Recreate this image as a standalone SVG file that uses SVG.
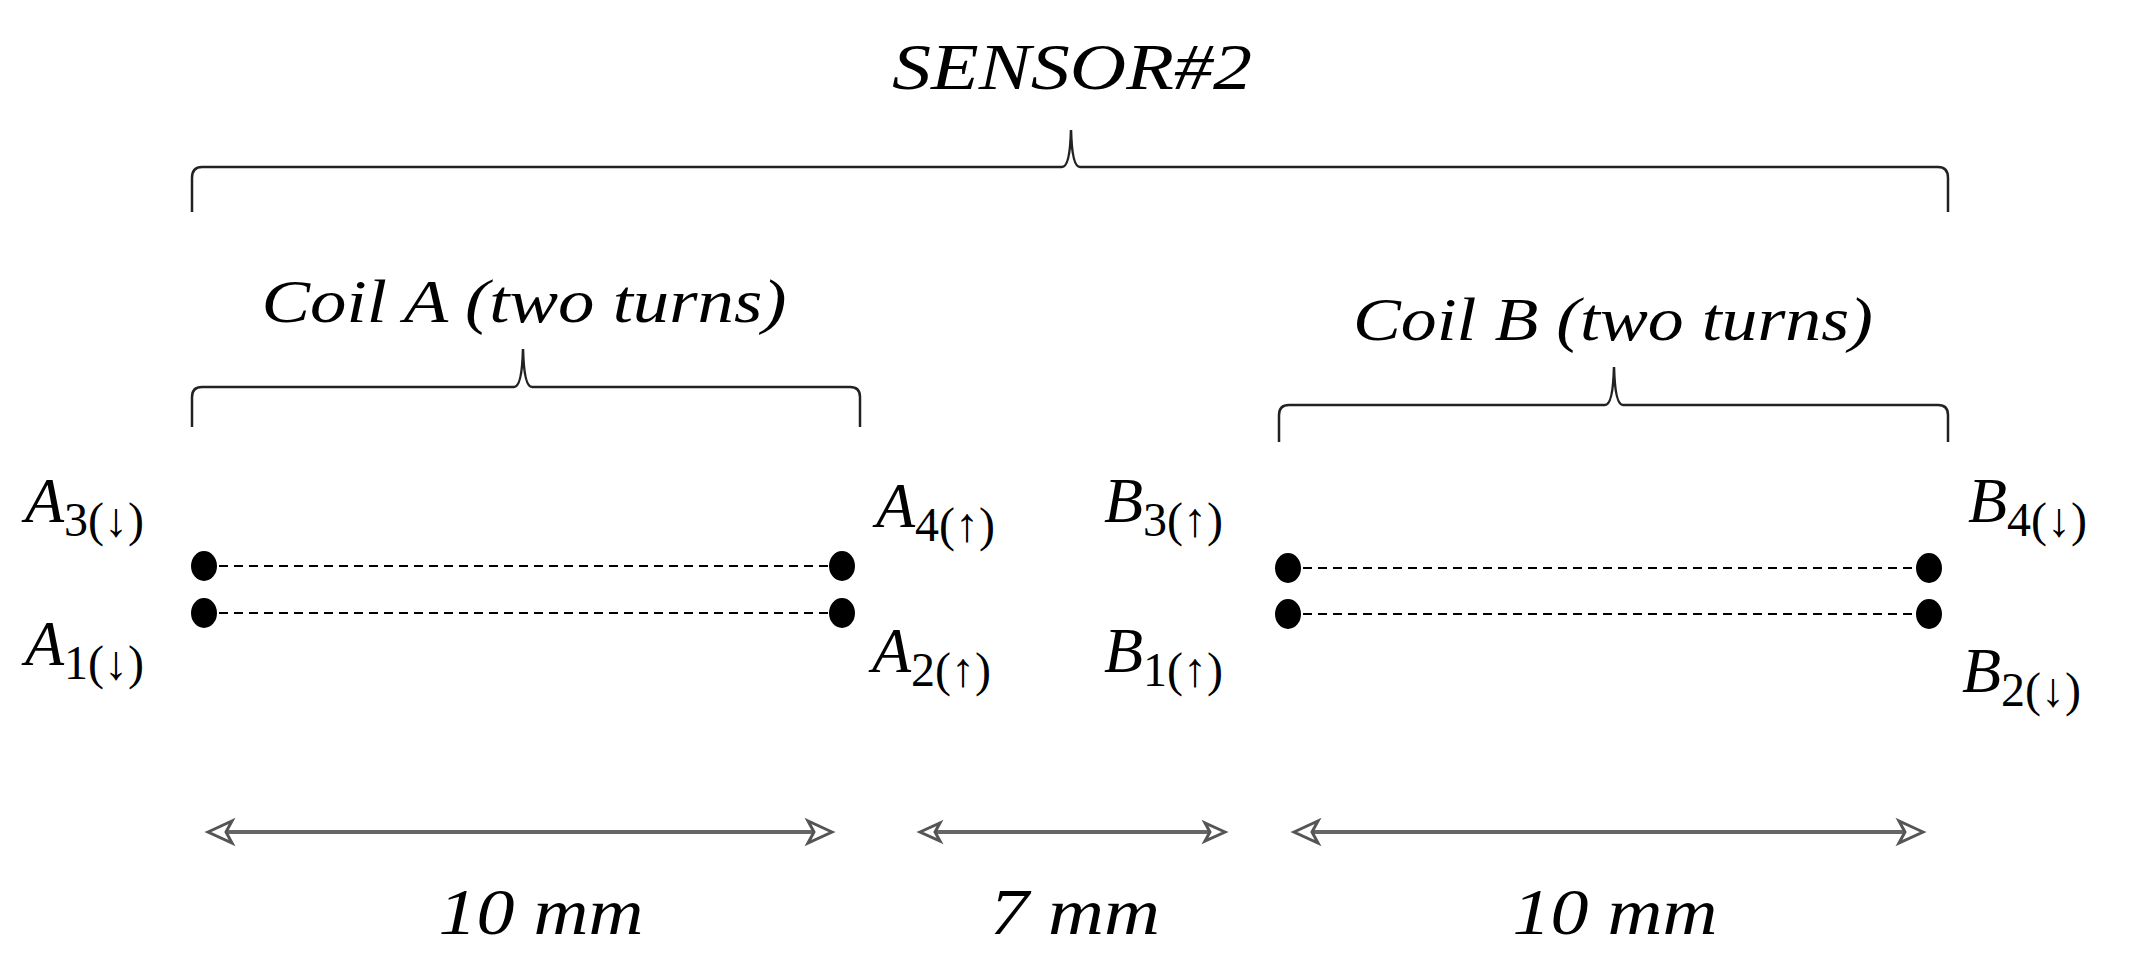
<svg xmlns="http://www.w3.org/2000/svg" width="2146" height="979" viewBox="0 0 2146 979">
<style>
.t{font-family:"Liberation Serif",serif;font-style:italic;fill:#000}
.lbl{font-family:"Liberation Serif",serif;font-style:italic;font-size:64px;fill:#000}
.sub{font-style:normal;font-size:48px}
.br{fill:none;stroke:#222;stroke-width:2.5}
.dash{stroke:#000;stroke-width:2;stroke-dasharray:9,6}
.dim{stroke:#666;stroke-width:4}
.ah{fill:#fff;stroke:#555;stroke-width:3}
</style>
<rect width="2146" height="979" fill="#fff"/>
<g id="sensor">
<text class="t" x="1072" y="89" font-size="66" text-anchor="middle" textLength="360" lengthAdjust="spacingAndGlyphs">SENSOR#2</text>
<path class="br" d="M192,212 V178 Q192,167 202,167 H1062 Q1070,167 1071,130 Q1072,167 1080,167 H1938 Q1948,167 1948,178 V212"/>
</g>
<g id="coilA">
<text class="t" x="524" y="322" font-size="62" text-anchor="middle" textLength="525" lengthAdjust="spacingAndGlyphs">Coil A (two turns)</text>
<path class="br" d="M192,427 V397 Q192,387 202,387 H514 Q522,387 523,349 Q524,387 532,387 H850 Q860,387 860,397 V427"/>
</g>
<g id="coilB">
<text class="t" x="1613" y="340" font-size="62" text-anchor="middle" textLength="520" lengthAdjust="spacingAndGlyphs">Coil B (two turns)</text>
<path class="br" d="M1279,442 V415 Q1279,405 1289,405 H1605 Q1613,405 1614,367 Q1615,405 1623,405 H1938 Q1948,405 1948,415 V442"/>
</g>
<g id="connectors">
<line class="dash" x1="204" y1="566" x2="842" y2="566"/>
<line class="dash" x1="204" y1="613" x2="842" y2="613"/>
<line class="dash" x1="1288" y1="568" x2="1929" y2="568"/>
<line class="dash" x1="1288" y1="614" x2="1929" y2="614"/>
</g>
<g id="dots">
<ellipse cx="204" cy="566" rx="13" ry="15"/>
<ellipse cx="204" cy="613" rx="13" ry="15"/>
<ellipse cx="842" cy="566" rx="13" ry="15"/>
<ellipse cx="842" cy="613" rx="13" ry="15"/>
<ellipse cx="1288" cy="568" rx="13" ry="15"/>
<ellipse cx="1288" cy="614" rx="13" ry="15"/>
<ellipse cx="1929" cy="568" rx="13" ry="15"/>
<ellipse cx="1929" cy="614" rx="13" ry="15"/>
</g>
<g id="labels">
<text class="lbl" x="25" y="522">A<tspan class="sub" dy="14">3(↓)</tspan></text>
<text class="lbl" x="25" y="665">A<tspan class="sub" dy="14">1(↓)</tspan></text>
<text class="lbl" x="876" y="527">A<tspan class="sub" dy="14">4(↑)</tspan></text>
<text class="lbl" x="872" y="672">A<tspan class="sub" dy="14">2(↑)</tspan></text>
<text class="lbl" x="1104" y="522">B<tspan class="sub" dy="14">3(↑)</tspan></text>
<text class="lbl" x="1104" y="672">B<tspan class="sub" dy="14">1(↑)</tspan></text>
<text class="lbl" x="1968" y="522">B<tspan class="sub" dy="14">4(↓)</tspan></text>
<text class="lbl" x="1962" y="692">B<tspan class="sub" dy="14">2(↓)</tspan></text>
</g>
<g id="dimensions">
<line class="dim" x1="215" y1="832" x2="822" y2="832"/>
<path class="ah" d="M208,832 L232,821 L226,832 L232,843 Z"/>
<path class="ah" d="M832,832 L808,821 L814,832 L808,843 Z"/>
<line class="dim" x1="926" y1="832" x2="1218" y2="832"/>
<path class="ah" d="M920,832 L940,823 L935,832 L940,841 Z"/>
<path class="ah" d="M1225,832 L1205,823 L1210,832 L1205,841 Z"/>
<line class="dim" x1="1300" y1="832" x2="1915" y2="832"/>
<path class="ah" d="M1294,832 L1318,821 L1312,832 L1318,843 Z"/>
<path class="ah" d="M1923,832 L1899,821 L1905,832 L1899,843 Z"/>
<text class="t" x="541" y="934" font-size="66" text-anchor="middle" textLength="205" lengthAdjust="spacingAndGlyphs">10 mm</text>
<text class="t" x="1075" y="934" font-size="66" text-anchor="middle" textLength="170" lengthAdjust="spacingAndGlyphs">7 mm</text>
<text class="t" x="1615" y="934" font-size="66" text-anchor="middle" textLength="205" lengthAdjust="spacingAndGlyphs">10 mm</text>
</g>
</svg>
